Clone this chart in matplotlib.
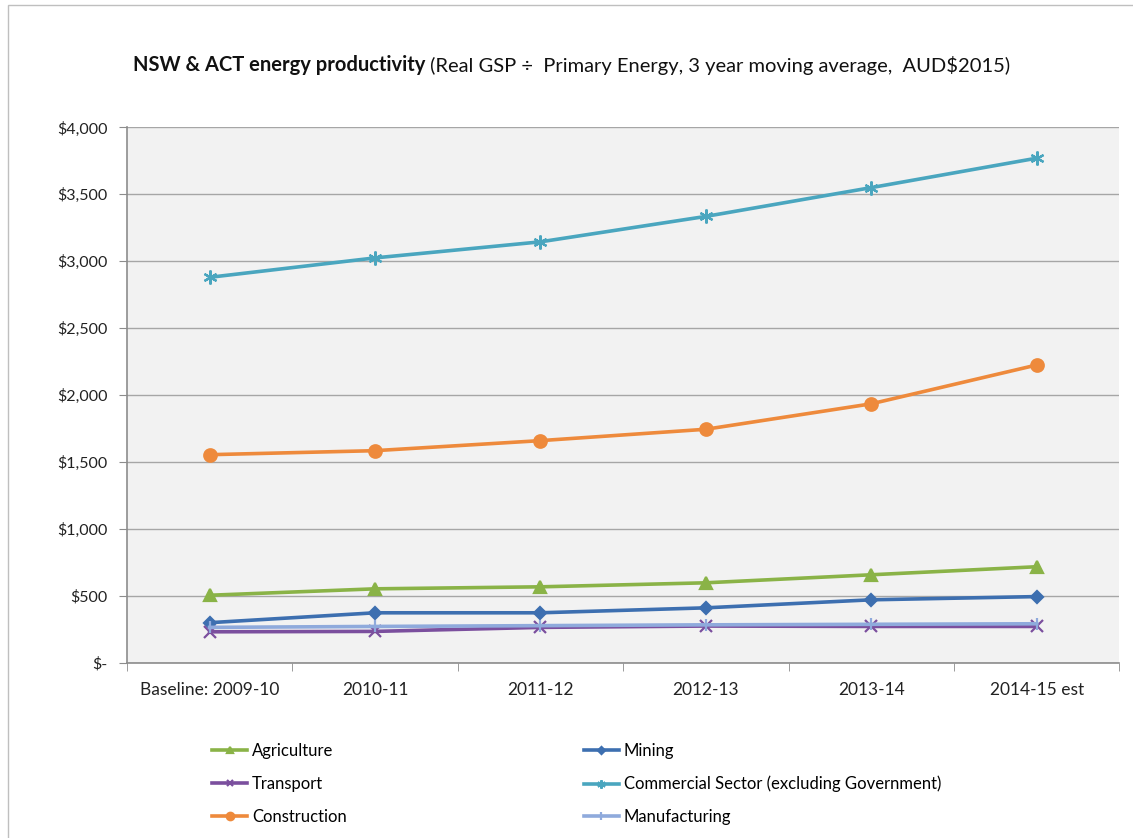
#!/usr/bin/env python3
"""NSW & ACT energy productivity by sector, 3 year moving average."""

import matplotlib

matplotlib.use("Agg")
import matplotlib.pyplot as plt
from matplotlib.patches import Rectangle
from matplotlib.ticker import FuncFormatter

plt.rcParams["font.family"] = ["Lato", "DejaVu Sans"]

YEARS = ["Baseline: 2009-10", "2010-11", "2011-12", "2012-13", "2013-14", "2014-15 est"]

AGRICULTURE = [505, 553, 568, 598, 658, 718]
MINING = [300, 374, 374, 411, 471, 495]
TRANSPORT = [232, 235, 265, 275, 272, 272]
COMMERCIAL = [2880, 3025, 3145, 3335, 3550, 3770]
CONSTRUCTION = [1555, 1585, 1660, 1745, 1935, 2225]
MANUFACTURING = [265, 272, 278, 284, 288, 292]

SERIES = [
    ("Agriculture", AGRICULTURE, "#8AB347", "^", 8),
    ("Mining", MINING, "#3D6FB0", "D", 6),
    ("Transport", TRANSPORT, "#7B4F9E", "x", 8),
    ("Commercial Sector (excluding Government)", COMMERCIAL, "#4AA6BF", (6, 2, 0), 10),
    ("Construction", CONSTRUCTION, "#EE8A3C", "o", 9),
    ("Manufacturing", MANUFACTURING, "#8FAADC", "|", 9),
]


def dollar(v, _pos):
    if v == 0:
        return "$-"
    return f"${v:,.0f}"


fig = plt.figure(figsize=(11.33, 8.38), dpi=100)
fig.patch.set_facecolor("white")
fig.patches.append(
    Rectangle((0.007, -0.01), 1.0, 1.004, transform=fig.transFigure,
              fill=False, edgecolor="#BFBFBF", linewidth=1)
)

ax = fig.add_axes([0.112, 0.209, 0.876, 0.639])
ax.set_facecolor("#F2F2F2")

x = range(len(YEARS))
handles = {}
for name, values, color, marker, size in SERIES:
    (line,) = ax.plot(x, values, color=color, linewidth=2.6, marker=marker,
                      markersize=size, markeredgewidth=1.6, markeredgecolor=color,
                      markerfacecolor=color, label=name)
    handles[name] = line

ax.set_ylim(0, 4000)
ax.set_xlim(-0.5, len(YEARS) - 0.5)
ax.set_yticks(range(0, 4001, 500))
ax.yaxis.set_major_formatter(FuncFormatter(dollar))
ax.set_xticks(list(x))
ax.set_xticklabels(YEARS)
ax.set_xticks([i + 0.5 for i in range(-1, len(YEARS))], minor=True)
ax.tick_params(axis="x", which="major", length=0, pad=14, labelsize=12.5, labelcolor="#222222")
ax.tick_params(axis="x", which="minor", length=6, color="#8C8C8C")
ax.tick_params(axis="y", length=6, color="#8C8C8C", labelsize=11.5, labelcolor="#222222", pad=8)
ax.grid(axis="y", color="#A6A6A6", linewidth=1)
ax.set_axisbelow(True)
for side in ("top", "right"):
    ax.spines[side].set_visible(False)
for side in ("left", "bottom"):
    ax.spines[side].set_color("#8C8C8C")
    ax.spines[side].set_linewidth(1.2)

# Title: bold part followed by normal part
t1 = fig.text(0.117, 0.915, "NSW & ACT energy productivity", fontsize=14.5,
              fontweight="bold", color="#111111", va="baseline")
ax.annotate(" (Real GSP \u00f7  Primary Energy, 3 year moving average,  AUD$2015)",
            xy=(1, 0), xycoords=t1, va="bottom", ha="left", fontsize=14.5,
            color="#111111", annotation_clip=False)

order = ["Agriculture", "Transport", "Construction",
         "Mining", "Commercial Sector (excluding Government)", "Manufacturing"]
fig.legend([handles[n] for n in order], order, ncol=2, frameon=False,
           loc="upper left", bbox_to_anchor=(0.174, 0.131), fontsize=12,
           handlelength=2.1, columnspacing=14.2, labelspacing=1.0,
           handletextpad=0.3, markerscale=0.6)

plt.savefig("out.png", dpi=100, facecolor=fig.get_facecolor())
